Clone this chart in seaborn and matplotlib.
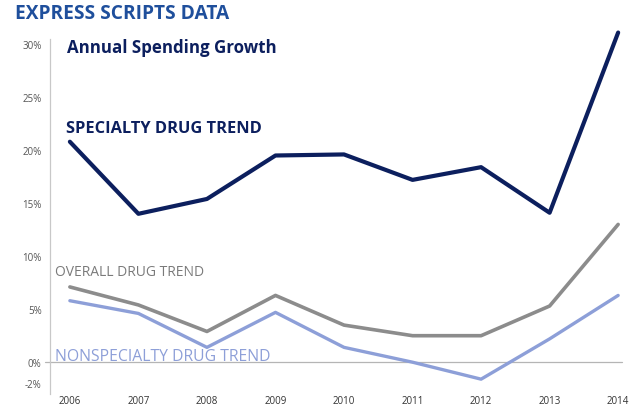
import numpy as np
import pandas as pd
import matplotlib
matplotlib.use('Agg')
import matplotlib.pyplot as plt
import seaborn as sns

### data ###
years = [2006, 2007, 2008, 2009, 2010, 2011, 2012, 2013, 2014]
specialty = [20.8, 14.0, 15.4, 19.5, 19.6, 17.2, 18.4, 14.1, 31.1]
overall = [7.1, 5.4, 2.9, 6.3, 3.5, 2.5, 2.5, 5.3, 13.0]
nonspecialty = [5.8, 4.6, 1.4, 4.7, 1.4, 0.0, -1.6, 2.2, 6.3]
series_names = ['SPECIALTY DRUG TREND', 'OVERALL DRUG TREND', 'NONSPECIALTY DRUG TREND']
y_ticks = [-2, 0, 5, 10, 15, 20, 25, 30]

colors = {'SPECIALTY DRUG TREND': '#0c1f5e',
          'OVERALL DRUG TREND': '#8c8c8c',
          'NONSPECIALTY DRUG TREND': '#8d9fd8'}

df = pd.DataFrame({'year': years * 3,
                   'value': specialty + overall + nonspecialty,
                   'series': [series_names[0]] * 9 + [series_names[1]] * 9 + [series_names[2]] * 9})

sns.set_style('white')
plt.rcParams['font.family'] = ['Open Sans', 'DejaVu Sans']

W, H = 633, 410
fig = plt.figure(figsize=(W / 100, H / 100), dpi=100)
ax = fig.add_axes([50 / W, 1 - 395 / H, 575 / W, (395 - 24) / H])

# zero line, a bit past the y axis on the left like the original
ax.axhline(0, xmin=-0.008, xmax=0.995, color='#b5b5b5', lw=0.9, zorder=1, clip_on=False)

for name, lw in zip(series_names, [3.0, 2.6, 2.4]):
    sns.lineplot(data=df[df['series'] == name], x='year', y='value', color=colors[name],
                 lw=lw, ax=ax, legend=False, zorder=3, clip_on=False)

ax.set_xlim(2005.71, 2014.1)
ax.set_ylim(-3, 32)
ax.set_xticks(years)
ax.set_xticklabels([str(y) for y in years], fontsize=7, color='#333333')
ax.set_yticks(y_ticks)
ax.set_yticklabels(['%d%%' % t for t in y_ticks], fontsize=7, color='#555555')
ax.tick_params(axis='y', length=0, pad=6)
ax.tick_params(axis='x', length=0, pad=1)
ax.set_xlabel('')
ax.set_ylabel('')
for s in ['top', 'right', 'bottom']:
    ax.spines[s].set_visible(False)
ax.spines['left'].set_color('#c8c8c8')
ax.spines['left'].set_linewidth(0.9)
ax.spines['left'].set_bounds(-3, 30.5)


def px(x, y):
    return x / W, 1 - y / H


fig.text(*px(15, 14), 'EXPRESS SCRIPTS DATA', fontsize=13.8, fontweight='bold',
         color='#1f4f9c', va='center', ha='left')
fig.text(*px(67, 48), 'Annual Spending Growth', fontsize=12.2, fontweight='bold',
         color='#0c1f5e', va='center', ha='left')
fig.text(*px(66, 129), 'SPECIALTY DRUG TREND', fontsize=11.8, fontweight='bold',
         color='#0c1f5e', va='center', ha='left')
fig.text(*px(55, 273), 'OVERALL DRUG TREND', fontsize=10, color='#7a7a7a',
         va='center', ha='left')
fig.text(*px(55, 357), 'NONSPECIALTY DRUG TREND', fontsize=11.3, color='#8d9fd8',
         va='center', ha='left')

fig.savefig('out.png', dpi=100)
